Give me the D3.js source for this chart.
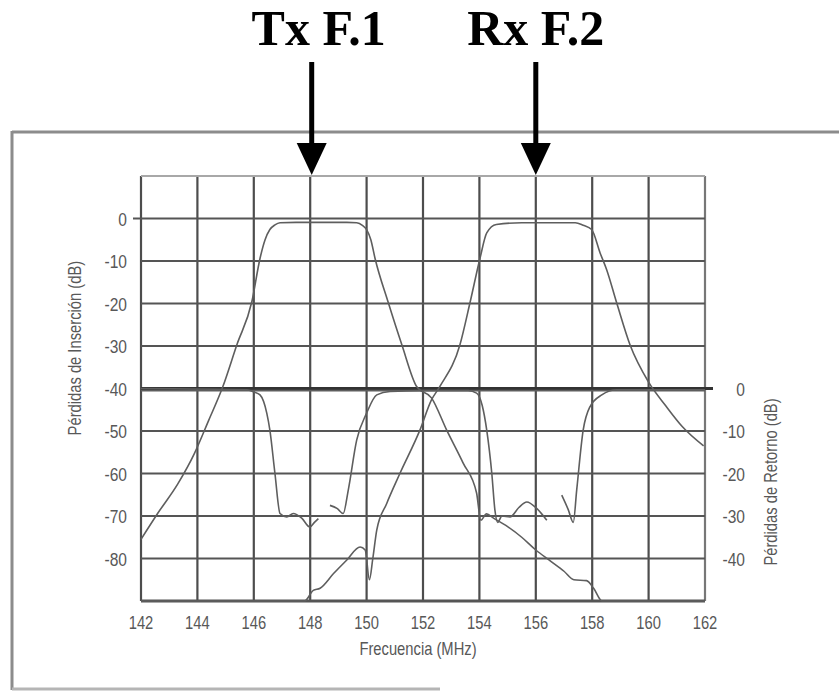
<!DOCTYPE html>
<html>
<head>
<meta charset="utf-8">
<script src="https://cdn.jsdelivr.net/npm/d3@7"></script>
<style>
  html, body { margin: 0; padding: 0; background: #fff; }
  svg { display: block; }
  .lab { font-family: "Liberation Sans", Arial, sans-serif; fill: #585858; }
  .ttl { font-family: "Liberation Serif", "DejaVu Serif", serif; font-weight: bold; fill: #000; }
</style>
</head>
<body>
<script>
// ---------- data ----------
const xTicks = [142, 144, 146, 148, 150, 152, 154, 156, 158, 160, 162];
const yLeftTicks = [0, -10, -20, -30, -40, -50, -60, -70, -80];
const yRightTicks = [0, -10, -20, -30, -40];
const gridY = [10, 0, -10, -20, -30, -40, -50, -60, -70, -80, -90];
const markers = [{ label: "Tx F.1", f: 148 }, { label: "Rx F.2", f: 156 }];

// Tx insertion loss (left axis, dB)
const txILFreq = [142, 142.6, 143.3, 143.9, 144.4, 144.9, 145.4, 145.93, 146.22, 146.4, 146.57, 146.75, 146.93, 147.5, 148.5, 149.3, 149.65, 149.85, 150.0, 150.15, 150.3, 150.76, 151.25, 151.78, 152.3, 152.84, 153.42, 153.9, 154.05, 154.25, 154.5, 155.0, 155.5, 156.0, 156.5, 157.0, 157.35, 157.8, 158.05, 158.35, 160, 162];
const txIL     = [-75.5, -69.3, -62.5, -55.2, -47.5, -39.6, -29.7, -19.6, -9.4, -5, -2.6, -1.5, -1.0, -0.9, -0.9, -0.9, -1.0, -1.6, -2.6, -5, -9.4, -19.6, -29.7, -39.6, -42.2, -49.8, -57.5, -64.6, -71, -69.5, -70.5, -72.5, -75, -78, -80.5, -83, -85, -85.2, -87, -90, -90, -90];

// Rx insertion loss (left axis, dB)
const rxILFreq = [142, 147.8, 148.11, 148.35, 148.82, 149.29, 149.77, 149.95, 150.1, 150.22, 150.36, 150.71, 151.18, 151.89, 152.3, 152.6, 153.31, 153.67, 154.02, 154.26, 154.6, 155.5, 156.5, 157.4, 157.68, 157.98, 158.28, 158.51, 158.87, 159.34, 160.0, 160.6, 161.2, 161.95];
const rxIL     = [-90, -90, -87.5, -87, -83.6, -80.4, -77.3, -78, -85, -80, -73.3, -67.1, -60, -49.8, -42.7, -39.5, -29.7, -19.7, -9.4, -3.4, -1.4, -1.0, -1.0, -1.0, -1.6, -2.6, -8.1, -12, -19.9, -29.7, -38.5, -44, -49, -53.5];

// Tx return loss (right axis, dB); null = gap in trace
const txRLFreq = [142, 145.75, 146.0, 146.22, 146.46, 146.57, 146.75, 146.93, 147.17, 147.4, 147.7, 147.99, 148.15, 148.29, 148.5, 148.7, 148.95, 149.17, 149.35, 149.65, 150.0, 150.36, 150.83, 152, 162];
const txRL     = [0, -0.3, -0.8, -1.5, -5.8, -9.8, -20, -29.4, -30.2, -29.4, -30.5, -32.6, -31.5, -30.6, null, -27.5, -28.2, -29.4, -23.9, -12.1, -5.8, -1.5, -0.7, -0.5, -0.5];

// Rx return loss (right axis, dB)
const rxRLFreq = [142, 153.6, 153.9, 154.1, 154.26, 154.44, 154.55, 154.65, 154.8, 155.09, 155.4, 155.68, 156.03, 156.39, 156.65, 156.92, 157.15, 157.33, 157.45, 157.68, 157.92, 158.34, 158.87, 162];
const rxRL     = [-0.5, -0.5, -1.1, -4, -9.8, -20, -28.6, -31.5, -30, -30.2, -28, -26.7, -28.2, -31, null, -25.1, -28.5, -31.5, -23.9, -9.8, -4.3, -1.5, -0.3, -0.3];

// ---------- layout ----------
const W = 839, H = 693;
const svg = d3.select("body").append("svg").attr("width", W).attr("height", H);

const x = d3.scaleLinear().domain([142, 162]).range([141, 705]);
const y = d3.scaleLinear().domain([-90, 10]).range([601, 176]);
const yR = d3.scaleLinear().domain([-50, 50]).range([601, 176]);

const NARROW = 0.82; // emulate a narrow sans face

// outer scanned frame
const frame = svg.append("g").attr("stroke", "#8c8c8c").attr("stroke-width", 3).attr("fill", "none");
frame.append("line").attr("x1", 12).attr("x2", W).attr("y1", 132).attr("y2", 132);
frame.append("line").attr("x1", 12).attr("x2", 12).attr("y1", 131).attr("y2", 690);
frame.append("line").attr("x1", 12).attr("x2", 440).attr("y1", 689).attr("y2", 689).attr("stroke", "#b5b5b5");

// grid
const grid = svg.append("g");
grid.selectAll("line.v").data(xTicks).join("line")
  .attr("x1", d => x(d)).attr("x2", d => x(d))
  .attr("y1", y(10)).attr("y2", y(-90))
  .attr("stroke", d => d === 162 ? "#777" : "#4d4d4d").attr("stroke-width", 2.2);
grid.selectAll("line.h").data(gridY).join("line")
  .attr("x1", x(142)).attr("x2", d => d === -40 ? x(162) + 8 : x(162))
  .attr("y1", d => y(d)).attr("y2", d => y(d))
  .attr("stroke", d => d === 10 ? "#a8a8a8" : (d === -40 ? "#333" : "#555"))
  .attr("stroke-width", d => d === -40 ? 3 : (d === -90 ? 3 : 2.2));
// small outer tick at 0 dB
grid.append("line").attr("x1", x(142) - 8).attr("x2", x(142)).attr("y1", y(0)).attr("y2", y(0))
  .attr("stroke", "#555").attr("stroke-width", 2);

// curves
const mk = (fs, vs) => fs.map((f, i) => ({ f, v: vs[i] }));
const lineL = d3.line().defined(d => d.v !== null).x(d => x(d.f)).y(d => y(d.v)).curve(d3.curveMonotoneX);
const lineR = d3.line().defined(d => d.v !== null).x(d => x(d.f)).y(d => yR(d.v)).curve(d3.curveMonotoneX);
const curves = svg.append("g").attr("fill", "none").attr("stroke", "#5e5e5e").attr("stroke-width", 1.6);
curves.append("path").attr("d", lineR(mk(txRLFreq, txRL)));
curves.append("path").attr("d", lineR(mk(rxRLFreq, rxRL)));
curves.append("path").attr("d", lineL(mk(txILFreq, txIL)));
curves.append("path").attr("d", lineL(mk(rxILFreq, rxIL)));

// x tick labels
svg.append("g").selectAll("text").data(xTicks).join("text")
  .attr("class", "lab").attr("font-size", 18).attr("text-anchor", "middle")
  .attr("transform", d => `translate(${x(d)},629) scale(${NARROW},1)`).text(d => d);

// left tick labels
svg.append("g").selectAll("text").data(yLeftTicks).join("text")
  .attr("class", "lab").attr("font-size", 19).attr("text-anchor", "end")
  .attr("transform", d => `translate(127,${y(d) + 7}) scale(${NARROW},1)`).text(d => d);

// right tick labels
svg.append("g").selectAll("text").data(yRightTicks).join("text")
  .attr("class", "lab").attr("font-size", 19).attr("text-anchor", "end")
  .attr("transform", d => `translate(745,${yR(d) + 7}) scale(${NARROW},1)`).text(d => d);

// axis titles
svg.append("text").attr("class", "lab").attr("font-size", 18).attr("text-anchor", "middle")
  .attr("transform", `translate(81,${(y(-8) + y(-53)) / 2}) rotate(-90) scale(${NARROW},1)`)
  .text("Pérdidas de Inserción  (dB)");
svg.append("text").attr("class", "lab").attr("font-size", 18).attr("text-anchor", "middle")
  .attr("transform", `translate(777,${(yR(0) + yR(-44)) / 2}) rotate(-90) scale(${NARROW},1)`)
  .text("Pérdidas de Retorno  (dB)");
svg.append("text").attr("class", "lab").attr("font-size", 18).attr("text-anchor", "middle")
  .attr("transform", `translate(${x(152) - 5},655) scale(${NARROW},1)`)
  .text("Frecuencia  (MHz)");

// Tx / Rx markers
const mg = svg.append("g");
markers.forEach((m, i) => {
  const cx = x(m.f) + (i === 0 ? 1.5 : 0);
  mg.append("text").attr("class", "ttl").attr("font-size", 50)
    .attr("x", cx + (i === 0 ? 7 : 0)).attr("y", 45).attr("text-anchor", "middle").text(m.label);
  mg.append("line").attr("x1", cx).attr("x2", cx).attr("y1", 62).attr("y2", 146)
    .attr("stroke", "#000").attr("stroke-width", 5);
  mg.append("path")
    .attr("d", `M${cx - 15},143 L${cx + 15},143 L${cx},175 Z`)
    .attr("fill", "#000");
});
</script>
</body>
</html>
